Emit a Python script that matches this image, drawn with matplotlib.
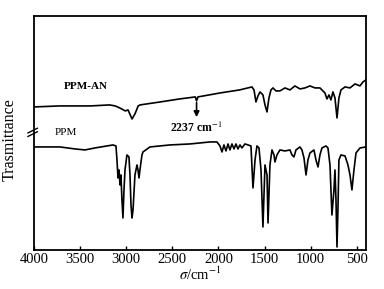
import matplotlib
matplotlib.use("Agg")
import matplotlib.pyplot as plt

plt.rcParams['font.family'] = ['Liberation Serif', 'DejaVu Serif']
plt.rcParams['mathtext.fontset'] = 'stix'

# PPM-AN spectrum (wavenumber / cm-1, transmittance a.u.)
an_wn = [4000, 3720, 3390, 3180, 3120, 3070, 3010, 2980, 2937, 2905, 2870, 2850,
         2630, 2420, 2250, 2237, 2222, 1980, 1770, 1636, 1614, 1593, 1571, 1549,
         1517, 1495, 1473, 1452, 1430, 1408, 1376, 1333, 1278, 1224, 1170, 1116,
         1061, 1007, 953, 899, 845, 823, 801, 780, 758, 736, 714, 693, 671, 627,
         573, 519, 465, 432, 400]
an_t = [143, 144, 144, 145, 144, 142, 139, 140, 131, 136, 144, 145,
        148, 151, 153, 149, 153, 157, 160, 163, 160, 148, 154, 158,
        155, 145, 138, 152, 160, 162, 159, 159, 162, 160, 164, 161,
        162, 164, 162, 162, 157, 151, 155, 150, 158, 152, 132, 152, 160, 163,
        162, 166, 164, 168, 170]

# PPM spectrum
ppm_wn = [4000, 3718, 3555, 3447, 3339, 3143, 3111, 3100, 3089, 3078, 3067, 3057,
          3046, 3035, 3024, 3013, 2992, 2970, 2959, 2948, 2937, 2926, 2905, 2883,
          2872, 2861, 2851, 2829, 2818, 2742, 2525, 2308, 2091, 2016, 1983, 1961,
          1940, 1918, 1896, 1875, 1853, 1831, 1810, 1788, 1766, 1745, 1712, 1679,
          1647, 1625, 1603, 1582, 1560, 1538, 1517, 1495, 1473, 1462, 1441, 1419,
          1397, 1387, 1365, 1333, 1278, 1224, 1202, 1181, 1159, 1116, 1094, 1072,
          1050, 1029, 1007, 964, 942, 920, 899, 877, 834, 812, 790, 769, 747, 736,
          725, 714, 704, 693, 671, 627, 595, 573, 552, 530, 508, 465, 400]
ppm_t = [103, 103, 101, 100, 102, 105, 104, 90, 72, 80, 65, 75,
         50, 32, 60, 80, 95, 93, 75, 45, 32, 40, 75, 85,
         80, 72, 80, 95, 98, 103, 105, 106, 108, 108, 104, 98,
         105, 99, 106, 100, 106, 101, 106, 101, 105, 102, 106, 105,
         104, 62, 90, 104, 102, 80, 23, 85, 75, 27, 85, 100,
         95, 88, 95, 100, 99, 100, 95, 93, 100, 103, 100, 92,
         75, 90, 97, 100, 90, 83, 95, 102, 104, 102, 85, 35, 60, 80,
         50, 3, 40, 90, 95, 94, 85, 75, 60, 80, 97, 102, 103]

fig = plt.figure(figsize=(3.84, 2.89), dpi=100)
ax = fig.add_axes([0.0885, 0.135, 0.8645, 0.81])

ax.plot(an_wn, an_t, color='black', lw=1.2)
ax.plot(ppm_wn, ppm_t, color='black', lw=1.2)

ax.set_xlim(4000, 400)
ax.set_ylim(0, 234)
ax.set_xticks([4000, 3500, 3000, 2500, 2000, 1500, 1000, 500])
ax.set_yticks([])
ax.tick_params(axis='x', direction='in', length=3, width=1, labelsize=10.5, pad=2)
for s in ax.spines.values():
    s.set_linewidth(1.3)

ax.set_xlabel(r'$\sigma$/cm$^{-1}$', fontsize=10.5, labelpad=0)
ax.set_ylabel('Trasmittance', fontsize=11.5)
ax.yaxis.set_label_coords(-0.05, 0.47)

ax.text(3680, 161, 'PPM-AN', fontsize=8, fontweight='bold')
ax.text(3780, 115, 'PPM', fontsize=8)
ax.annotate('', xy=(2237, 130), xytext=(2237, 150),
            arrowprops=dict(arrowstyle='-|>', color='black', lw=1.2, mutation_scale=8))
ax.text(2237, 122, '2237 cm$^{-1}$', fontsize=8.5, fontweight='bold', ha='center', va='center')

# axis break on the left spine
ax.plot([-0.012, 0.012], [0.49, 0.50], transform=ax.transAxes, color='white', lw=3, clip_on=False)
ax.plot([-0.018, 0.01], [0.485, 0.505], transform=ax.transAxes, color='black', lw=1, clip_on=False)
ax.plot([-0.018, 0.01], [0.500, 0.520], transform=ax.transAxes, color='black', lw=1, clip_on=False)

fig.savefig('out.png', dpi=100)
